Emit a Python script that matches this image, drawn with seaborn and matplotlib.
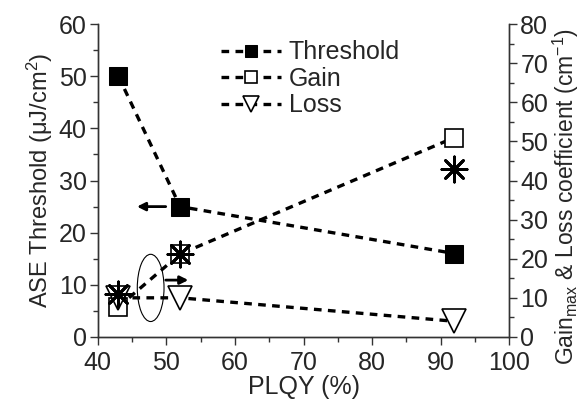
import matplotlib
matplotlib.use("Agg")
import matplotlib.pyplot as plt
from matplotlib.patches import Ellipse
from matplotlib.ticker import MultipleLocator
import seaborn as sns

# data
plqy = [43, 52, 92]
threshold = [50, 25, 16]        # left axis, uJ/cm2
gain = [7.7, 21.2, 51]          # right axis, cm-1
loss = [10, 10, 4]              # right axis, cm-1
gain_star = [11, 21.2, 43]      # right axis, asterisk points

sns.set_theme(style="ticks")
plt.rcParams["font.family"] = ["Liberation Sans", "DejaVu Sans"]
plt.rcParams["mathtext.fontset"] = "custom"
plt.rcParams["mathtext.rm"] = "Liberation Sans"
plt.rcParams["mathtext.it"] = "Liberation Sans:italic"
plt.rcParams["mathtext.default"] = "regular"

fs = 18

fig, ax = plt.subplots(figsize=(5.86, 4.03), dpi=100)
fig.subplots_adjust(left=0.167, right=0.869, bottom=0.164, top=0.94)
ax2 = ax.twinx()

dash = (0, (2.3, 1.9))
sns.lineplot(x=plqy, y=threshold, ax=ax, color="black", linestyle=dash, lw=2.4,
             marker="s", markersize=13, markerfacecolor="black",
             markeredgecolor="black", label="Threshold", legend=False)
sns.lineplot(x=plqy, y=gain, ax=ax2, color="black", linestyle=dash, lw=2.4,
             marker="s", markersize=13, markerfacecolor="white",
             markeredgecolor="black", markeredgewidth=1.2, label="Gain", legend=False)
sns.lineplot(x=plqy, y=loss, ax=ax2, color="black", linestyle=dash, lw=2.4,
             marker="v", markersize=17, markerfacecolor="white",
             markeredgecolor="black", markeredgewidth=1.2, label="Loss", legend=False)
sns.scatterplot(x=plqy, y=gain_star, ax=ax2, marker=(8, 2, 0), s=330,
                color="black", linewidth=2, legend=False, zorder=5)

ax.set_xlim(40, 100)
ax.set_ylim(0, 60)
ax2.set_ylim(0, 80)
ax.xaxis.set_major_locator(MultipleLocator(10))
ax.xaxis.set_minor_locator(MultipleLocator(5))
ax.yaxis.set_major_locator(MultipleLocator(10))
ax.yaxis.set_minor_locator(MultipleLocator(5))
ax2.yaxis.set_major_locator(MultipleLocator(10))
ax2.yaxis.set_minor_locator(MultipleLocator(5))

for a in (ax, ax2):
    a.spines["top"].set_visible(False)
    for s in a.spines.values():
        s.set_linewidth(1.0)
        s.set_color("#333333")
    a.tick_params(which="major", length=6, width=1, labelsize=fs, pad=2, color="#333333")
    a.tick_params(which="minor", length=3.5, width=1, color="#333333")
ax.tick_params(axis="x", which="both", top=False)
ax.tick_params(axis="x", which="major", pad=4)

ax.set_xlabel("PLQY (%)", fontsize=fs, labelpad=0)
ax.set_ylabel("ASE Threshold ($\\mu$J/cm$^2$)", fontsize=17, labelpad=3)
ax2.set_ylabel("Gain$_{max}$ & Loss coefficient (cm$^{-1}$)", fontsize=16.5)
ax2.yaxis.set_label_coords(1.1, 0.45)

# arrows and ellipse
ax.annotate("", xy=(45.3, 25), xytext=(50.3, 25),
            arrowprops=dict(arrowstyle="-|>", lw=2, color="black", mutation_scale=12))
ax.annotate("", xy=(53.6, 10.9), xytext=(49.5, 10.9),
            arrowprops=dict(arrowstyle="-|>", lw=2, color="black", mutation_scale=12))
ax.add_patch(Ellipse((47.7, 9.4), 3.9, 12.9, fill=False, lw=0.8, color="black"))

handles = ax.get_lines()[:1] + ax2.get_lines()[:2]
ax.legend(handles=handles, labels=["Threshold", "Gain", "Loss"], loc="upper left",
          bbox_to_anchor=(0.245, 1.02), frameon=False, fontsize=fs, handlelength=2.4,
          handletextpad=0.3, labelspacing=0.1, markerscale=0.7)

fig.savefig("out.png", dpi=100)
